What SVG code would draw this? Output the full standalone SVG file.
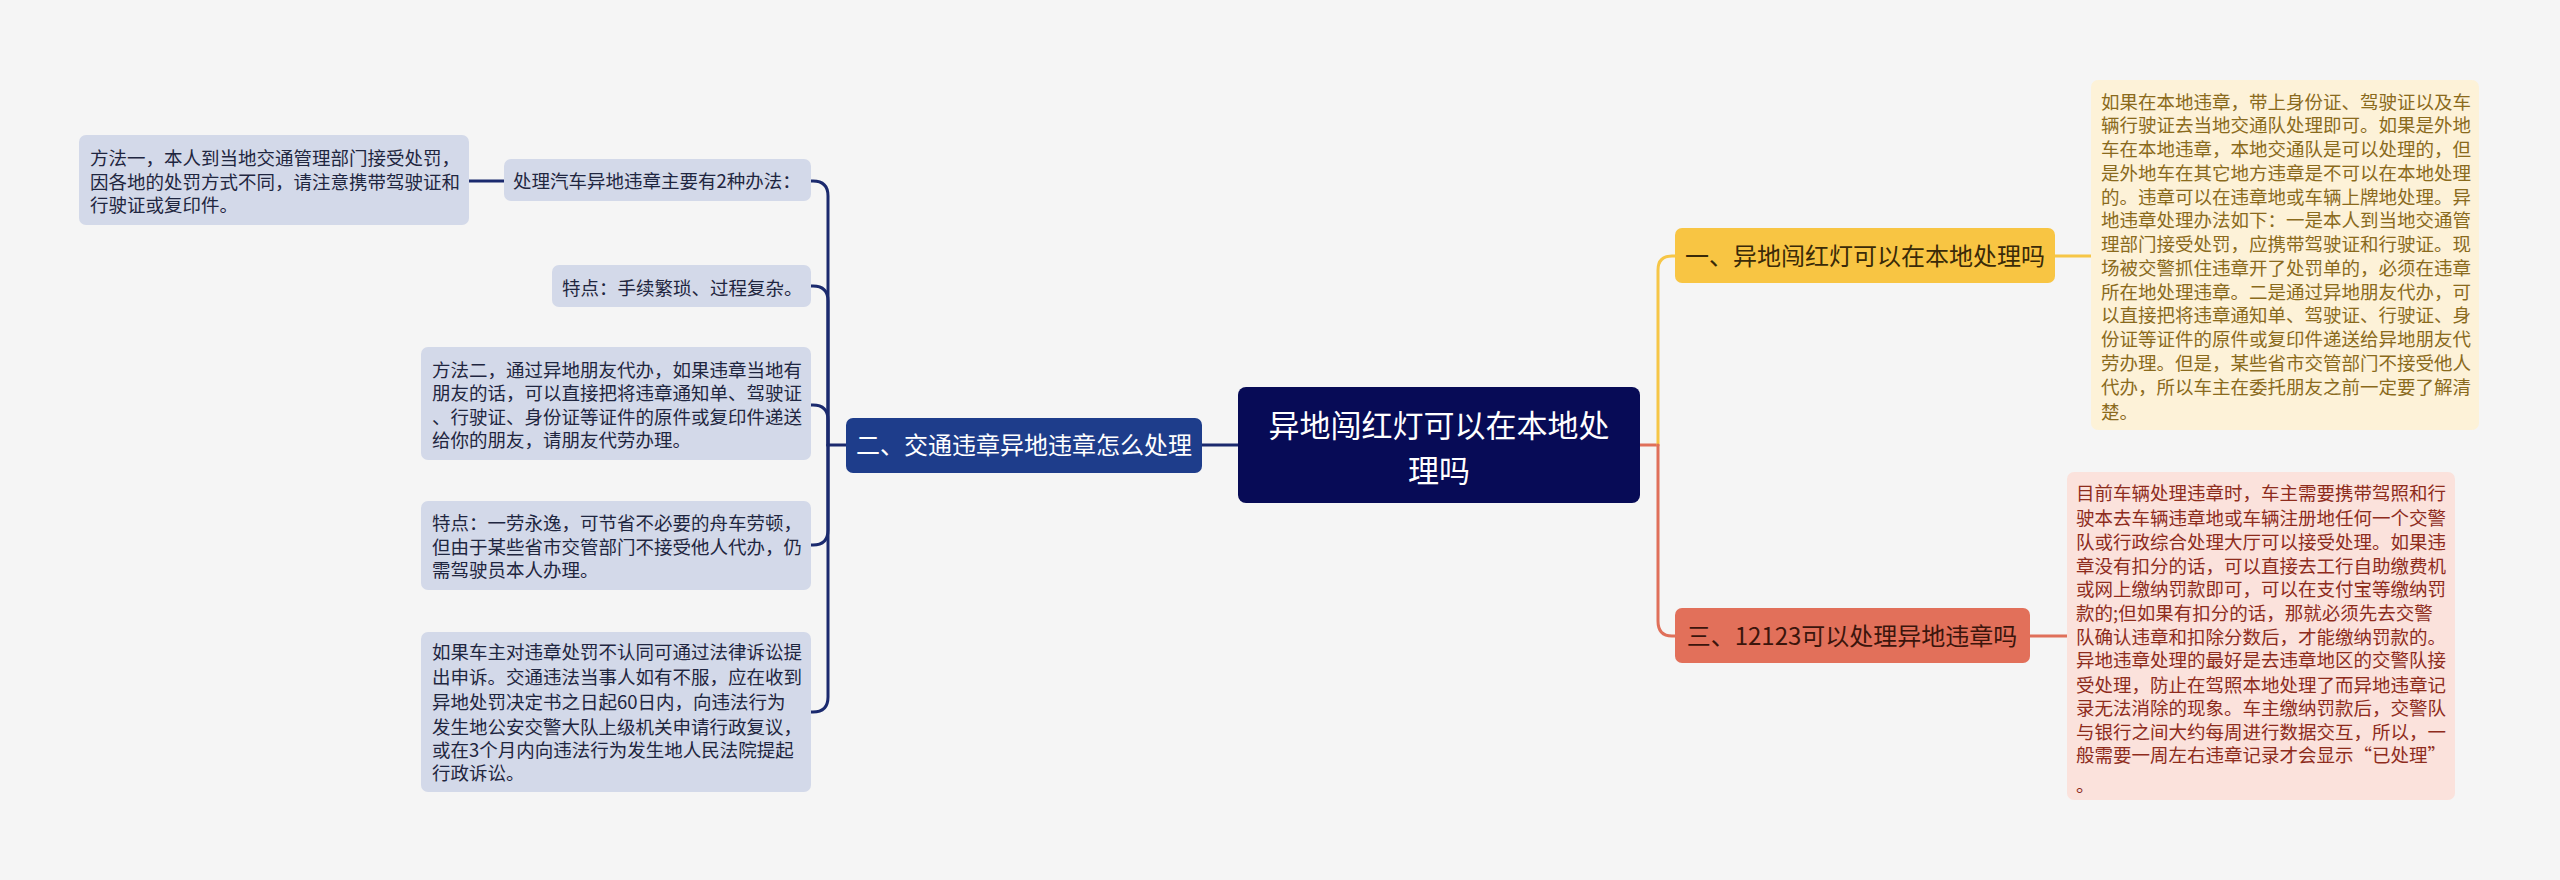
<svg xmlns="http://www.w3.org/2000/svg" width="2560" height="880" viewBox="0 0 2560 880">
<style>
text{font-family:"Noto Sans CJK SC","Noto Sans",sans-serif;}
.leaf{fill:#d3d9e9;}
.leaft{font-size:18.5px;fill:#1f2640;}
.con{fill:none;stroke-width:3;stroke-linecap:round;}
.navy{stroke:#1b2a6e;}
.yel{stroke:#f6c647;}
.red{stroke:#e0705a;}
.ynote{fill:#fdf2d8;}
.ynt{font-size:18.5px;fill:#8a6a1c;}
.rnote{fill:#fbe2dc;}
.rnt{font-size:18.5px;fill:#8e2c1c;}
</style>
<rect width="2560" height="880" fill="#f5f5f5"/>
<g id="connectors">
<path class="con navy" d="M1202 445H1239"/>
<path class="con navy" d="M846 445H828V196Q828 181 813 181H811"/>
<path class="con navy" d="M828 445V301Q828 286 813 286H811"/>
<path class="con navy" d="M828 445V420Q828 405 813 405H811"/>
<path class="con navy" d="M828 445V530Q828 545 813 545H811"/>
<path class="con navy" d="M828 445V697Q828 712 813 712H811"/>
<path class="con navy" d="M469 181H504"/>
<path class="con red" d="M1640 445H1658"/>
<path class="con yel" d="M1658 445V270Q1658 256 1672 256H1676"/>
<path class="con red" d="M1658 445V621Q1658 636 1672 636H1676"/>
<path class="con yel" d="M2055 256H2091"/>
<path class="con red" d="M2030 636H2067"/>
</g>
<g id="root">
<rect x="1238" y="387" width="402" height="116" rx="8" fill="#070b56"/>
<text x="1439" y="437" font-size="31" fill="#ffffff" text-anchor="middle">异地闯红灯可以在本地处</text>
<text x="1439" y="482" font-size="31" fill="#ffffff" text-anchor="middle">理吗</text>
</g>
<g id="n2">
<rect x="846" y="418" width="356" height="55" rx="7" fill="#1e3d8b"/>
<text x="1024" y="454" font-size="24" fill="#ffffff" text-anchor="middle">二、交通违章异地违章怎么处理</text>
</g>
<g id="n2a">
<rect class="leaf" x="504" y="159" width="307" height="42" rx="7"/>
<text class="leaft" x="513" y="188">处理汽车异地违章主要有2种办法：</text>
</g>
<g id="n2a1">
<rect class="leaf" x="79" y="135" width="390" height="90" rx="7"/>
<text class="leaft" x="90" y="165">方法一，本人到当地交通管理部门接受处罚，</text>
<text class="leaft" x="90" y="189">因各地的处罚方式不同，请注意携带驾驶证和</text>
<text class="leaft" x="90" y="212">行驶证或复印件。</text>
</g>
<g id="n2b">
<rect class="leaf" x="552" y="265" width="259" height="42" rx="7"/>
<text class="leaft" x="562" y="295">特点：手续繁琐、过程复杂。</text>
</g>
<g id="n2c">
<rect class="leaf" x="421" y="347" width="390" height="113" rx="7"/>
<text class="leaft" x="432" y="377">方法二，通过异地朋友代办，如果违章当地有</text>
<text class="leaft" x="432" y="400">朋友的话，可以直接把将违章通知单、驾驶证</text>
<text class="leaft" x="432" y="424">、行驶证、身份证等证件的原件或复印件递送</text>
<text class="leaft" x="432" y="447">给你的朋友，请朋友代劳办理。</text>
</g>
<g id="n2d">
<rect class="leaf" x="421" y="501" width="390" height="89" rx="7"/>
<text class="leaft" x="432" y="530">特点：一劳永逸，可节省不必要的舟车劳顿，</text>
<text class="leaft" x="432" y="554">但由于某些省市交管部门不接受他人代办，仍</text>
<text class="leaft" x="432" y="577">需驾驶员本人办理。</text>
</g>
<g id="n2e">
<rect class="leaf" x="421" y="632" width="390" height="160" rx="7"/>
<text class="leaft" x="432" y="659">如果车主对违章处罚不认同可通过法律诉讼提</text>
<text class="leaft" x="432" y="684">出申诉。交通违法当事人如有不服，应在收到</text>
<text class="leaft" x="432" y="709">异地处罚决定书之日起60日内，向违法行为</text>
<text class="leaft" x="432" y="734">发生地公安交警大队上级机关申请行政复议，</text>
<text class="leaft" x="432" y="757">或在3个月内向违法行为发生地人民法院提起</text>
<text class="leaft" x="432" y="780">行政诉讼。</text>
</g>
<g id="n1">
<rect x="1675" y="228" width="380" height="55" rx="7" fill="#f8c543"/>
<text x="1865" y="265" font-size="24" fill="#3a2a08" text-anchor="middle">一、异地闯红灯可以在本地处理吗</text>
</g>
<g id="n1a">
<rect class="ynote" x="2091" y="80" width="388" height="350" rx="7"/>
<text class="ynt" x="2101" y="109">如果在本地违章，带上身份证、驾驶证以及车</text>
<text class="ynt" x="2101" y="132">辆行驶证去当地交通队处理即可。如果是外地</text>
<text class="ynt" x="2101" y="156">车在本地违章，本地交通队是可以处理的，但</text>
<text class="ynt" x="2101" y="180">是外地车在其它地方违章是不可以在本地处理</text>
<text class="ynt" x="2101" y="204">的。违章可以在违章地或车辆上牌地处理。异</text>
<text class="ynt" x="2101" y="227">地违章处理办法如下：一是本人到当地交通管</text>
<text class="ynt" x="2101" y="251">理部门接受处罚，应携带驾驶证和行驶证。现</text>
<text class="ynt" x="2101" y="275">场被交警抓住违章开了处罚单的，必须在违章</text>
<text class="ynt" x="2101" y="299">所在地处理违章。二是通过异地朋友代办，可</text>
<text class="ynt" x="2101" y="322">以直接把将违章通知单、驾驶证、行驶证、身</text>
<text class="ynt" x="2101" y="346">份证等证件的原件或复印件递送给异地朋友代</text>
<text class="ynt" x="2101" y="370">劳办理。但是，某些省市交管部门不接受他人</text>
<text class="ynt" x="2101" y="394">代办，所以车主在委托朋友之前一定要了解清</text>
<text class="ynt" x="2101" y="419">楚。</text>
</g>
<g id="n3">
<rect x="1675" y="608" width="355" height="55" rx="7" fill="#e2705a"/>
<text x="1852" y="645" font-size="24" fill="#3b150c" text-anchor="middle">三、12123可以处理异地违章吗</text>
</g>
<g id="n3a">
<rect class="rnote" x="2067" y="472" width="388" height="328" rx="7"/>
<text class="rnt" x="2076" y="500">目前车辆处理违章时，车主需要携带驾照和行</text>
<text class="rnt" x="2076" y="525">驶本去车辆违章地或车辆注册地任何一个交警</text>
<text class="rnt" x="2076" y="549">队或行政综合处理大厅可以接受处理。如果违</text>
<text class="rnt" x="2076" y="573">章没有扣分的话，可以直接去工行自助缴费机</text>
<text class="rnt" x="2076" y="596">或网上缴纳罚款即可，可以在支付宝等缴纳罚</text>
<text class="rnt" x="2076" y="620">款的;但如果有扣分的话，那就必须先去交警</text>
<text class="rnt" x="2076" y="644">队确认违章和扣除分数后，才能缴纳罚款的。</text>
<text class="rnt" x="2076" y="667">异地违章处理的最好是去违章地区的交警队接</text>
<text class="rnt" x="2076" y="692">受处理，防止在驾照本地处理了而异地违章记</text>
<text class="rnt" x="2076" y="715">录无法消除的现象。车主缴纳罚款后，交警队</text>
<text class="rnt" x="2076" y="739">与银行之间大约每周进行数据交互，所以，一</text>
<text class="rnt" x="2076" y="762">般需要一周左右违章记录才会显示“已处理”</text>
<text class="rnt" x="2076" y="792">。</text>
</g>
</svg>
